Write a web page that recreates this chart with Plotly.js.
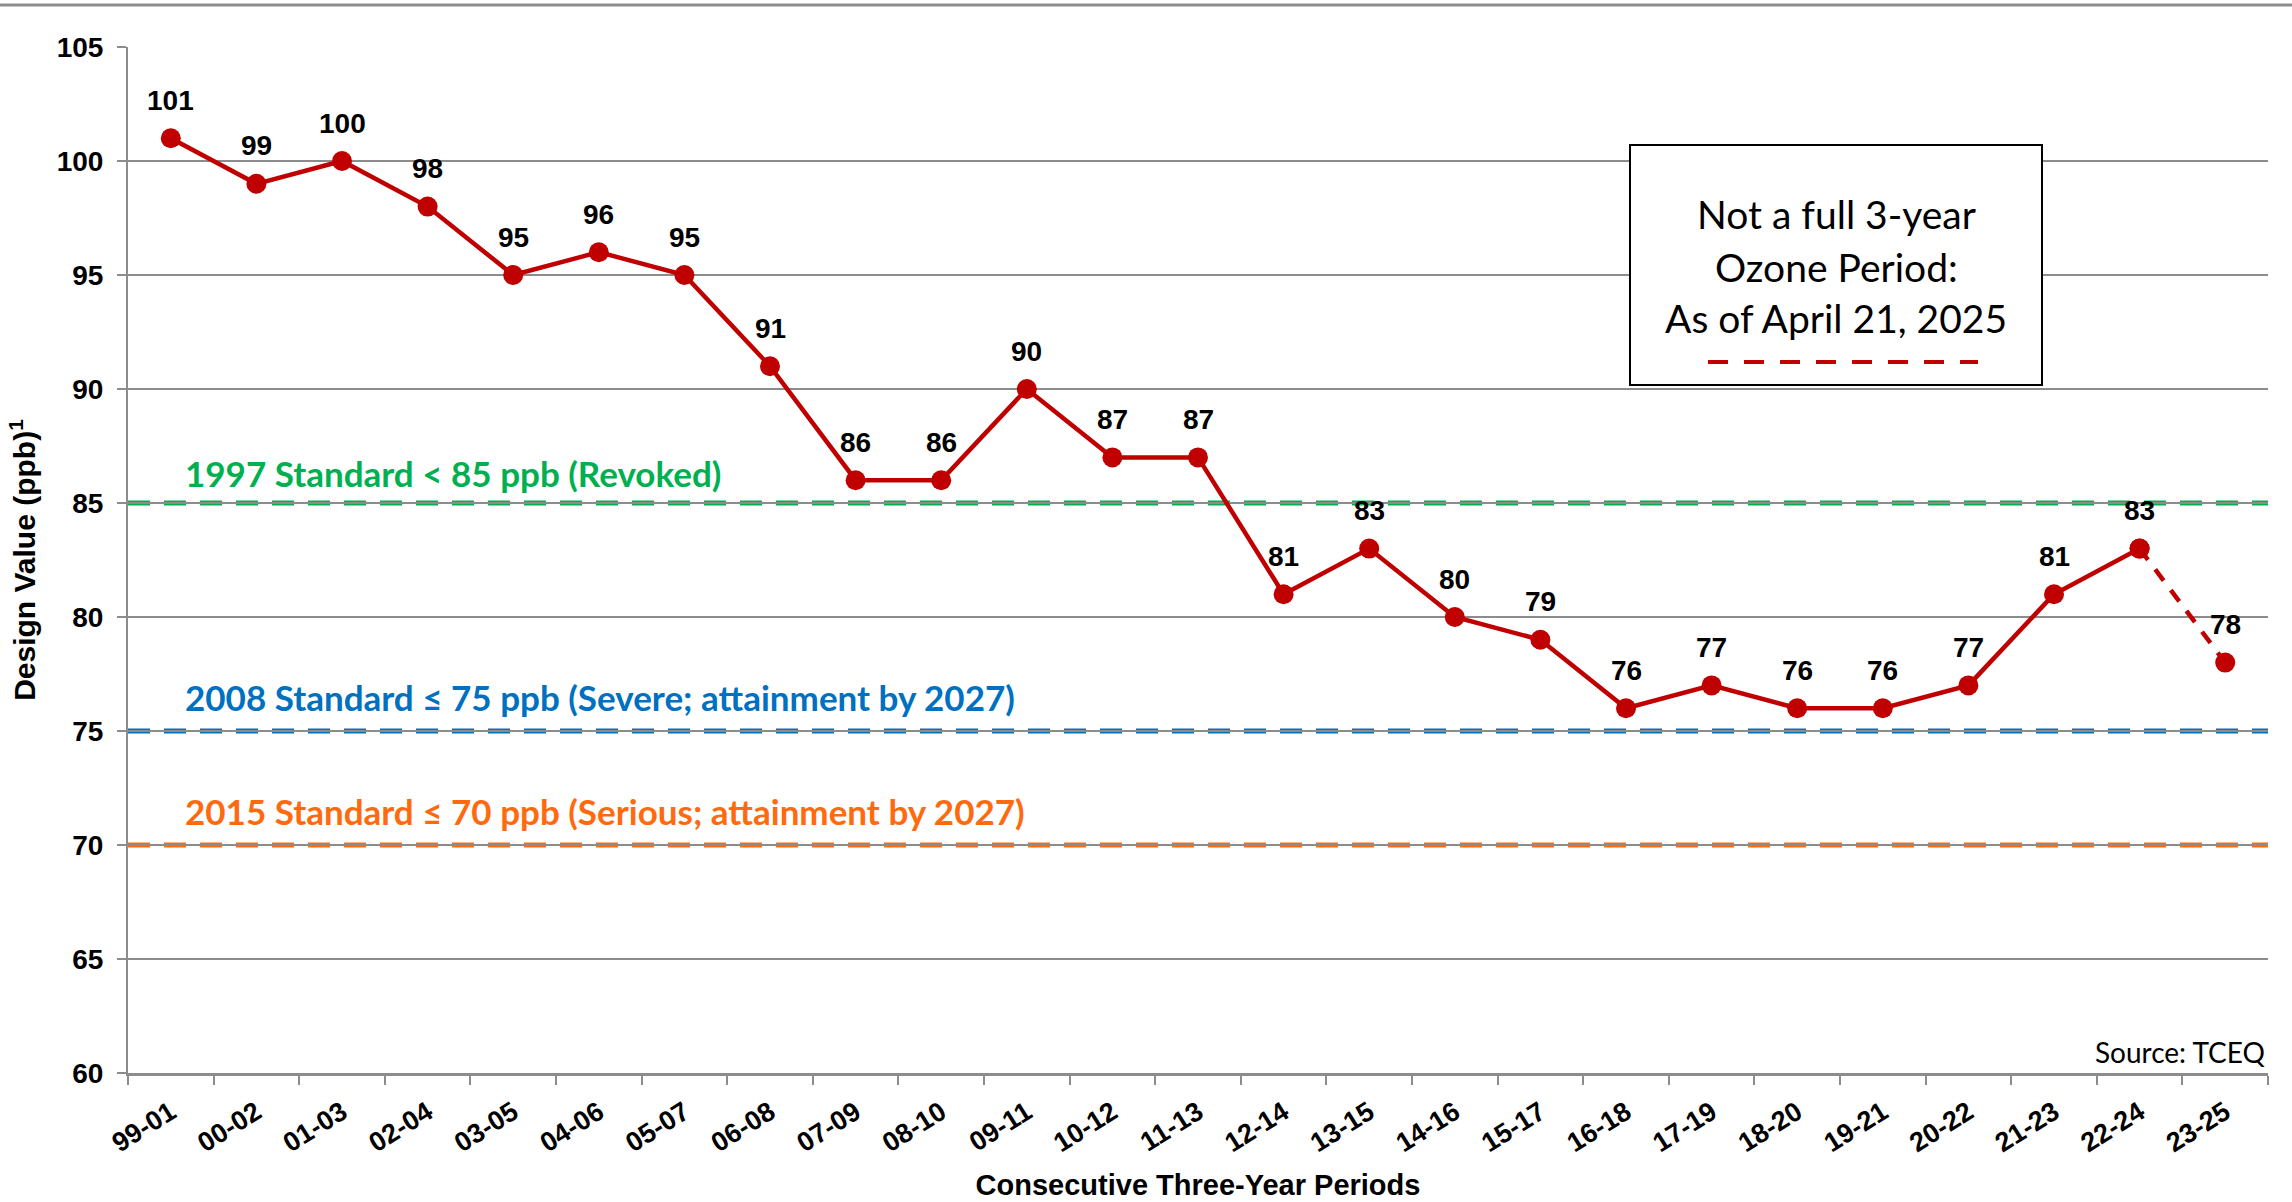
<!DOCTYPE html>
<html>
<head>
<meta charset="utf-8">
<script src="https://cdn.plot.ly/plotly-3.0.1.min.js"></script>
<style>
  html, body { margin: 0; padding: 0; background: #ffffff; }
  #chart { width: 2292px; height: 1202px; }
</style>
</head>
<body>
<div id="chart"></div>
<script>
// ---- Data ----
const periods = ["99-01","00-02","01-03","02-04","03-05","04-06","05-07","06-08","07-09","08-10",
                 "09-11","10-12","11-13","12-14","13-15","14-16","15-17","16-18","17-19","18-20",
                 "19-21","20-22","21-23","22-24","23-25"];
const designValues = [101,99,100,98,95,96,95,91,86,86,90,87,87,81,83,80,79,76,77,76,76,77,81,83,78];
const standardValues = [85, 75, 70];
const standardLabels = [
  "1997 Standard < 85 ppb (Revoked)",
  "2008 Standard ≤ 75 ppb (Severe; attainment by 2027)",
  "2015 Standard ≤ 70 ppb (Serious; attainment by 2027)"
];
const standardColors = ["#00B050", "#0070C0", "#FF6A0E"];
const boxLines = ["Not a full 3-year", "Ozone Period:", "As of April 21, 2025"];
const sourceText = "Source: TCEQ";

// ---- Styling ----
const RED = "#C00000";
const GRID = "#8C8C8C";
const ARIAL = "Liberation Sans, Arial, sans-serif";
const boldFont = {family: ARIAL, size: 28, color: "#000000", weight: "bold"};
const xTickFont = {family: ARIAL, size: 27, color: "#000000", weight: "bold"};
const calFont = "Lato, Carlito, Calibri, sans-serif";

const nFull = periods.length - 1; // last period is partial
const fullX = periods.slice(0, nFull);
const fullY = designValues.slice(0, nFull);
const partX = periods.slice(nFull - 1);
const partY = designValues.slice(nFull - 1);

const traces = [
  {
    x: fullX, y: fullY, type: "scatter", mode: "lines+markers",
    line: {color: RED, width: 4.5},
    marker: {color: RED, size: 20},
    hoverinfo: "x+y", showlegend: false
  },
  {
    x: partX, y: partY, type: "scatter", mode: "lines+markers",
    line: {color: RED, width: 4.5, dash: "14px,12px"},
    marker: {color: RED, size: 20},
    hoverinfo: "x+y", showlegend: false
  }
];

const shapes = [];
const annotations = [];

// data labels
periods.forEach((p, i) => {
  annotations.push({
    x: p, y: designValues[i], xref: "x", yref: "y", text: String(designValues[i]),
    showarrow: false, yanchor: "middle", xanchor: "center", yshift: 38,
    font: boldFont
  });
});

// plot-area geometry helpers (paper coords)
const L = 128, R = 24, T = 47, B = 129, W = 2292, H = 1202;
const pw = W - L - R, ph = H - T - B;
const px = x => (x - L) / pw;
const py = y => (H - B - y) / ph;

standardValues.forEach((v, i) => {
  shapes.push({
    type: "line", xref: "paper", yref: "y", x0: 0, x1: 1, y0: v, y1: v,
    line: {color: standardColors[i], width: 5, dash: "22px,14px"}, layer: "between"
  });
  annotations.push({
    xref: "paper", yref: "y", x: px(183), y: v, xanchor: "left", yanchor: "bottom",
    yshift: i === 0 ? 7 : 11,
    text: "<b>" + standardLabels[i] + "</b>", showarrow: false,
    font: {family: calFont, size: 35, color: standardColors[i]}
  });
});

// top border line
shapes.push({type: "line", xref: "paper", yref: "paper", x0: px(0), x1: px(W), y0: py(5), y1: py(5),
  line: {color: "#8E8E8E", width: 3}, layer: "above"});

// note box
shapes.push({type: "rect", xref: "paper", yref: "paper", x0: px(1630), x1: px(2042), y0: py(385), y1: py(145),
  fillcolor: "#ffffff", line: {color: "#000000", width: 2}, layer: "above"});
const boxYs = [214, 267, 318];
boxLines.forEach((t, i) => {
  annotations.push({xref: "paper", yref: "paper", x: px(1836), y: py(boxYs[i]), xanchor: "center", yanchor: "middle",
    text: t, showarrow: false, font: {family: calFont, size: 39, color: "#000000"}});
});
shapes.push({type: "line", xref: "paper", yref: "paper", x0: px(1708), x1: px(1978), y0: py(362), y1: py(362),
  line: {color: RED, width: 4, dash: "20px,16px"}, layer: "above"});

// source
annotations.push({xref: "paper", yref: "paper", x: 1, y: py(1052), xanchor: "right", yanchor: "middle",
  text: sourceText, showarrow: false, font: {family: calFont, size: 28, color: "#000000"}});

const layout = {
  width: W, height: H,
  margin: {l: L, r: R, t: T, b: B},
  paper_bgcolor: "#ffffff", plot_bgcolor: "#ffffff",
  showlegend: false,
  xaxis: {
    type: "category", categoryorder: "array", categoryarray: periods,
    range: [-0.5, periods.length - 0.5],
    showgrid: false, zeroline: false,
    showline: true, linecolor: GRID, linewidth: 3,
    ticks: "outside", tickson: "boundaries", ticklen: 9, tickwidth: 2, tickcolor: GRID,
    tickangle: -32, tickfont: xTickFont, ticklabelstandoff: 10,
    title: {text: "<b>Consecutive Three-Year Periods</b>", font: {family: ARIAL, size: 29, color: "#000"}, standoff: 18}
  },
  yaxis: {
    range: [60, 105], dtick: 5, tick0: 60,
    showgrid: true, gridcolor: GRID, gridwidth: 2, zeroline: false,
    showline: true, linecolor: GRID, linewidth: 2,
    ticks: "outside", ticklen: 9, tickwidth: 2, tickcolor: GRID,
    tickfont: boldFont, ticklabelstandoff: 8,
    title: {text: "<b>Design Value (ppb)<sup>1</sup></b>", font: {family: ARIAL, size: 30, color: "#000"}, standoff: 12}
  },
  shapes: shapes,
  annotations: annotations
};

Plotly.newPlot("chart", traces, layout, {displayModeBar: false, responsive: false});
</script>
</body>
</html>
